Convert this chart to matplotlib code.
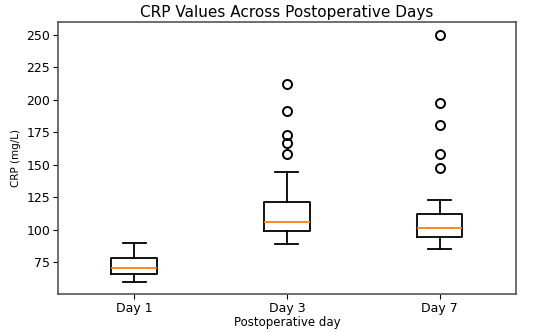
import matplotlib.pyplot as plt

days = ["Day 1", "Day 3", "Day 7"]
lower_whisker = [59.9, 89.0, 85.2]
q1 = [66.3, 99.3, 94.7]
median = [70.4, 106.2, 101.3]
q3 = [78.1, 121.2, 112.0]
upper_whisker = [89.6, 144.7, 123.3]
outliers = [
    [],
    [212.2, 191.2, 173.1, 166.7, 158.5],
    [250.0, 197.4, 180.5, 158.0, 147.8],
]

stats = []
for i, day in enumerate(days):
    stats.append({
        "label": day,
        "whislo": lower_whisker[i],
        "q1": q1[i],
        "med": median[i],
        "q3": q3[i],
        "whishi": upper_whisker[i],
        "fliers": outliers[i],
    })

fig = plt.figure(figsize=(5.5, 3.33), dpi=100)
ax = fig.add_axes([0.105, 0.116, 0.833, 0.817])

lw = 1.3
ax.bxp(stats,
       boxprops=dict(linewidth=lw),
       whiskerprops=dict(linewidth=lw),
       capprops=dict(linewidth=lw),
       medianprops=dict(linewidth=lw, color="#ff7f0e"),
       flierprops=dict(marker="o", markersize=6.5, markeredgewidth=1.4,
                       markerfacecolor="none", markeredgecolor="black"))

for side in ax.spines.values():
    side.set_color("#555555")
    side.set_linewidth(1.2)

ax.set_title("CRP Values Across Postoperative Days", fontsize=11, pad=4)
ax.set_xlabel("Postoperative day", fontsize=8.5, labelpad=1)
ax.set_ylabel("CRP (mg/L)", fontsize=7.5, labelpad=4)
ax.tick_params(axis="both", labelsize=9, pad=2)
ax.set_yticks([75, 100, 125, 150, 175, 200, 225, 250])

plt.savefig("out.png", dpi=100)
